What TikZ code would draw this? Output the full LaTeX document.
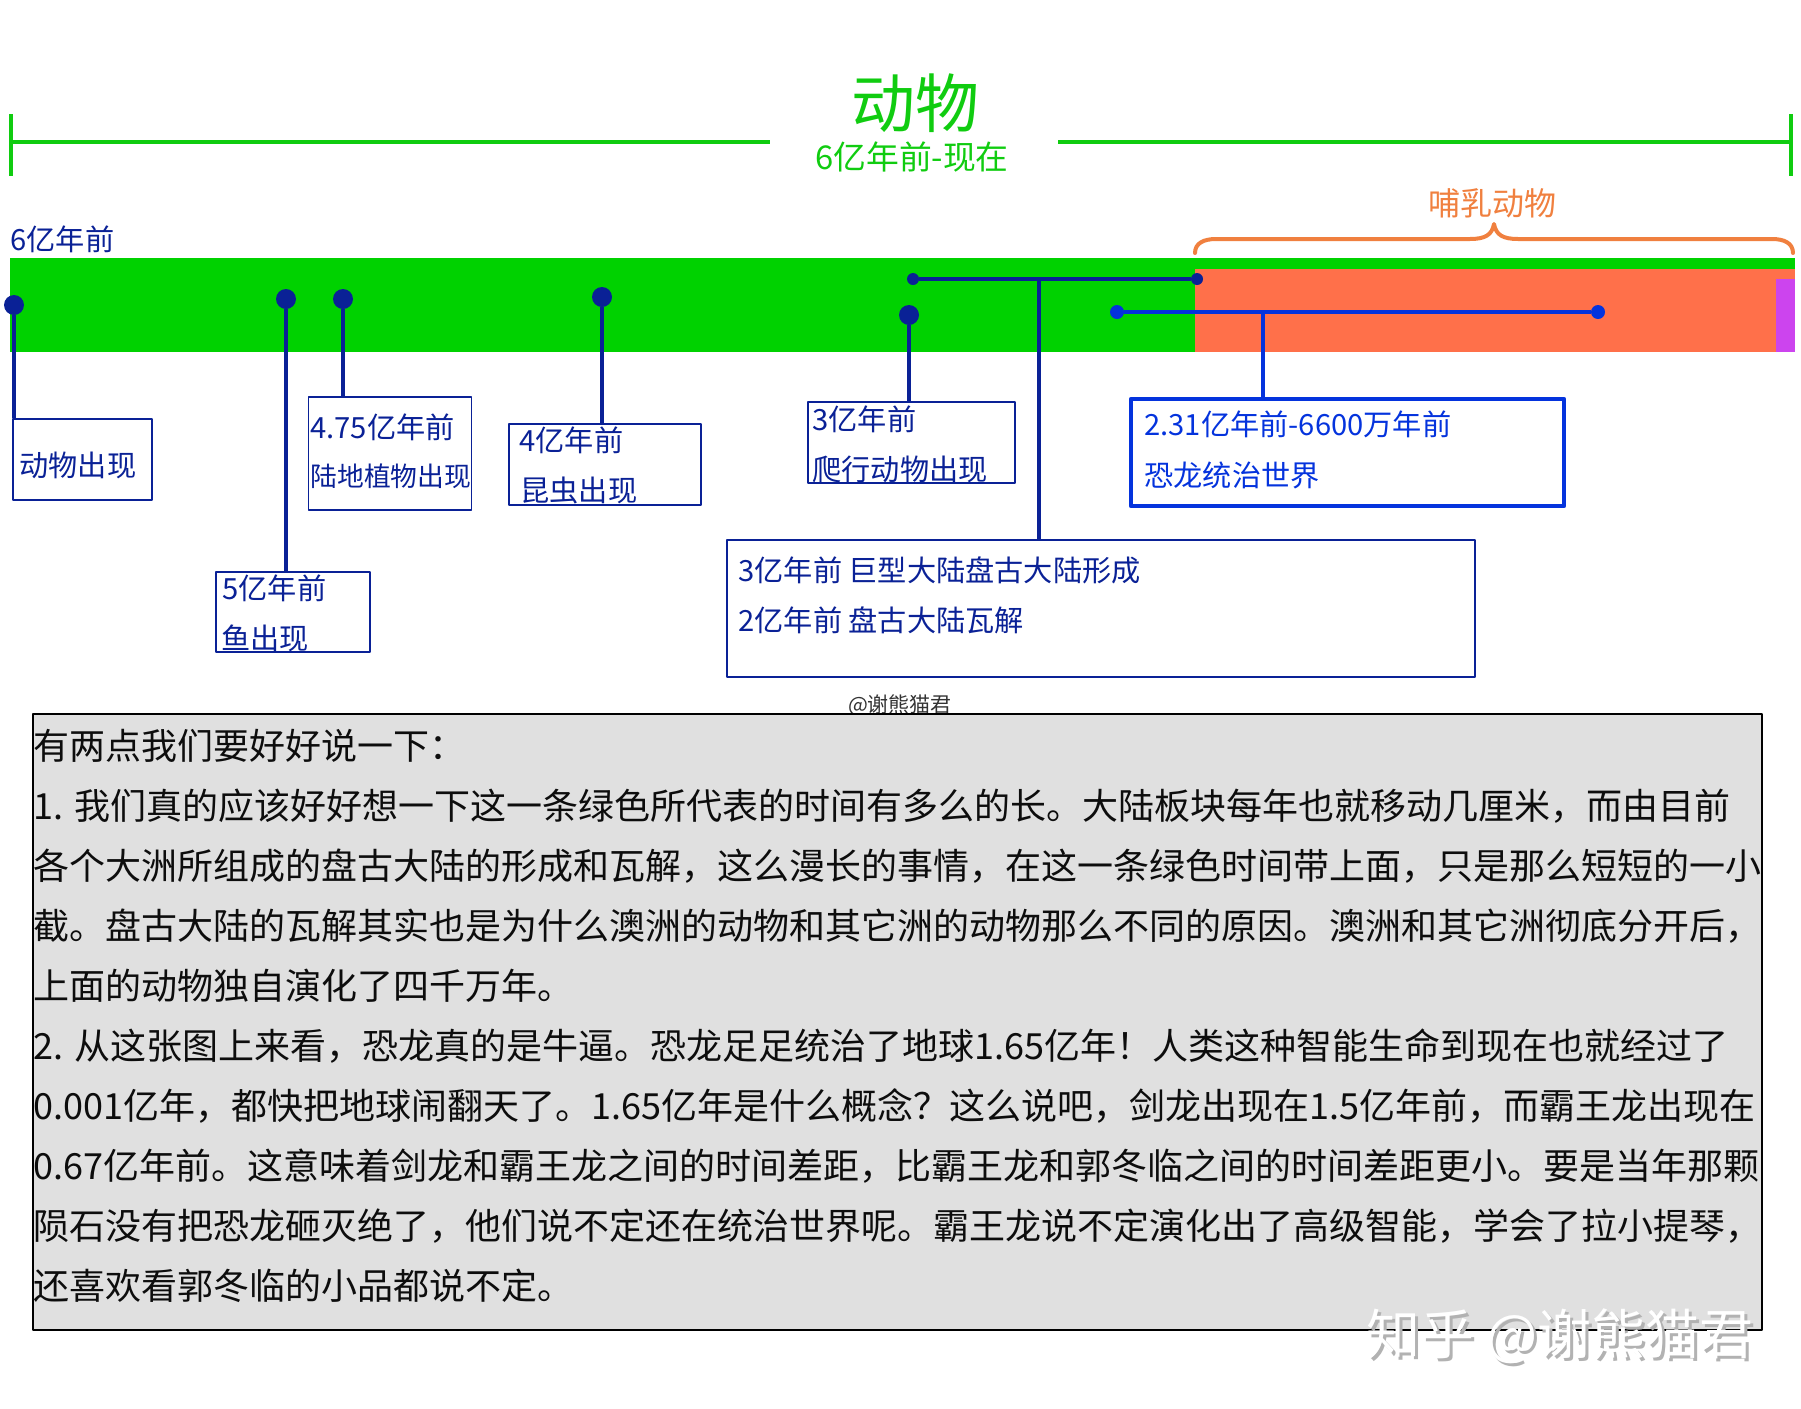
\documentclass[tikz,border=0pt]{standalone}
\usepackage{fontspec}
\setmainfont{Noto Sans CJK SC}
\definecolor{barGreen}{HTML}{00D200}
\definecolor{lineGreen}{HTML}{10CC10}
\definecolor{mamOrange}{HTML}{FF704A}
\definecolor{braceOrange}{HTML}{F0803F}
\definecolor{nowPurple}{HTML}{CC44EE}
\definecolor{navy}{HTML}{0A2196}
\definecolor{dinoBlue}{HTML}{0433DD}
\definecolor{panelGrey}{HTML}{E0E0E0}
\begin{document}
\begin{tikzpicture}[x=.5pt,y=-.5pt,line join=round,
    txt/.style={inner sep=0pt,anchor=west,text=navy,font=\fontsize{14.6}{16}\selectfont},
    infobox/.style={draw=navy,line width=.7pt,inner sep=0pt},
    link/.style={draw=navy,line width=1.7pt},
    dino/.style={draw=dinoBlue,line width=2.4pt},
    spanline/.style={draw=lineGreen,line width=2.4pt},
    bigdot/.style={circle,fill=navy,inner sep=0pt,minimum size=10pt},
    smalldot/.style={circle,fill=navy,inner sep=0pt,minimum size=6pt},
    dinodot/.style={circle,fill=dinoBlue,inner sep=0pt,minimum size=7pt}]
\useasboundingbox (0,0) rectangle (1801,1409);
% top span
\coordinate (spanA) at (11,142);
\coordinate (spanB) at (770,142);
\coordinate (spanC) at (1058,142);
\coordinate (spanD) at (1791,142);
\draw[spanline] (spanA)--(spanB) (spanC)--(spanD);
\draw[spanline] (11,114)--(11,176) (1791,114)--(1791,176);
\node[inner sep=0pt,text=lineGreen,font=\fontsize{32}{34}\selectfont] (title) at (915,103) {动物};
\node[inner sep=0pt,text=lineGreen,font=\fontsize{16.4}{18}\selectfont] (subtitle) at (912,157) {6亿年前-现在};
\node[txt] (start) at (10,239) {6亿年前};
% bar
\fill[barGreen] (10,258) rectangle (1795,352);
\fill[mamOrange] (1195,269) rectangle (1795,352);
\fill[nowPurple] (1776,279) rectangle (1795,352);
\draw[braceOrange,line width=2pt,line cap=round] (1195,253) .. controls (1195,243) and (1204,239) .. (1216,239)
    -- (1470,239) .. controls (1485,239) and (1492,235) .. (1494,224)
    .. controls (1496,235) and (1503,239) .. (1518,239) -- (1772,239)
    .. controls (1784,239) and (1793,243) .. (1793,253);
\node[inner sep=0pt,text=braceOrange,font=\fontsize{16}{18}\selectfont] (mammal) at (1492,203) {哺乳动物};
% boxes
\node[infobox,minimum width=69.5pt,minimum height=40.5pt] (boxanimal) at (82.5,459.5) {};
\node[infobox,minimum width=81.5pt,minimum height=56.5pt] (boxplant) at (390,453.5) {};
\node[infobox,minimum width=96pt,minimum height=40.5pt] (boxinsect) at (605,464.5) {};
\node[infobox,minimum width=77pt,minimum height=40pt] (boxfish) at (293,612) {};
\node[infobox,minimum width=103.5pt,minimum height=40.5pt] (boxreptile) at (911.5,442.5) {};
\node[infobox,minimum width=374pt,minimum height=68.5pt] (boxpangea) at (1101,608.5) {};
\node[draw=dinoBlue,line width=2.4pt,inner sep=0pt,minimum width=216.5pt,minimum height=53.5pt] (boxdino) at (1347.5,452.5) {};
\node[txt] (animaltxt) at (19,465) {动物出现};
\node[txt] (planttxtA) at (310,427) {4.75亿年前};
\node[txt,font=\fontsize{13.4}{16}\selectfont] (planttxtB) at (310,476) {陆地植物出现};
\node[txt] (insecttxtA) at (519,440) {4亿年前};
\node[txt] (insecttxtB) at (520,490) {昆虫出现};
\node[txt] (fishtxtA) at (222,588) {5亿年前};
\node[txt] (fishtxtB) at (221,638) {鱼出现};
\node[txt] (reptiletxtA) at (812,419) {3亿年前};
\node[txt] (reptiletxtB) at (812,469) {爬行动物出现};
\node[txt] (pangeatxtA) at (738,570) {3亿年前 巨型大陆盘古大陆形成};
\node[txt] (pangeatxtB) at (738,620) {2亿年前 盘古大陆瓦解};
\node[txt,text=dinoBlue] (dinotxtA) at (1144,424) {2.31亿年前-6600万年前};
\node[txt,text=dinoBlue] (dinotxtB) at (1144,475) {恐龙统治世界};
% dots
\node[bigdot] (dotanimal) at (14,305) {};
\node[bigdot] (dotfish) at (286,299) {};
\node[bigdot] (dotplant) at (343,299) {};
\node[bigdot] (dotinsect) at (602,297) {};
\node[bigdot] (dotreptile) at (909,315) {};
\node[smalldot] (dotpangeaA) at (913,279) {};
\node[smalldot] (dotpangeaB) at (1197,279) {};
\node[dinodot] (dotdinoA) at (1117,312) {};
\node[dinodot] (dotdinoB) at (1598,312) {};
\coordinate (pangeamid) at (1039,279);
\coordinate (dinomid) at (1263,312);
\draw[link] (dotanimal)--(dotanimal|-boxanimal.north);
\draw[link] (dotfish)--(dotfish|-boxfish.north);
\draw[link] (dotplant)--(dotplant|-boxplant.north);
\draw[link] (dotinsect)--(dotinsect|-boxinsect.north);
\draw[link] (dotreptile)--(dotreptile|-boxreptile.north);
\draw[link] (dotpangeaA)--(dotpangeaB) (pangeamid)--(pangeamid|-boxpangea.north);
\draw[dino] (dotdinoA)--(dotdinoB) (dinomid)--(dinomid|-boxdino.north);
% note
\node[inner sep=0pt,text=black!80,font=\fontsize{10.5}{12}\selectfont] (credit) at (900,705) {@谢熊猫君};
\node[draw=black,fill=panelGrey,line width=.7pt,inner sep=0pt,minimum width=864.5pt,minimum height=308pt] (panel) at (897.5,1022) {};
\node[inner sep=0pt,anchor=north west,align=left,text=black!95,font=\fontsize{18}{30}\selectfont] (notetxt) at (33.5,729) {有两点我们要好好说一下：\\
1. 我们真的应该好好想一下这一条绿色所代表的时间有多么的长。大陆板块每年也就移动几厘米，而由目前\\
各个大洲所组成的盘古大陆的形成和瓦解，这么漫长的事情，在这一条绿色时间带上面，只是那么短短的一小\\
截。盘古大陆的瓦解其实也是为什么澳洲的动物和其它洲的动物那么不同的原因。澳洲和其它洲彻底分开后，\\
上面的动物独自演化了四千万年。\\
2. 从这张图上来看，恐龙真的是牛逼。恐龙足足统治了地球1.65亿年！人类这种智能生命到现在也就经过了\\
0.001亿年，都快把地球闹翻天了。1.65亿年是什么概念？这么说吧，剑龙出现在1.5亿年前，而霸王龙出现在\\
0.67亿年前。这意味着剑龙和霸王龙之间的时间差距，比霸王龙和郭冬临之间的时间差距更小。要是当年那颗\\
陨石没有把恐龙砸灭绝了，他们说不定还在统治世界呢。霸王龙说不定演化出了高级智能，学会了拉小提琴，\\
还喜欢看郭冬临的小品都说不定。};
% watermark
\node[inner sep=0pt,anchor=east,text=black!30,font=\fontsize{27}{30}\selectfont] (markshadow) at (1757,1339) {知乎 @谢熊猫君};
\node[inner sep=0pt,anchor=east,text=white,font=\fontsize{27}{30}\selectfont] (mark) at (1754,1336) {知乎 @谢熊猫君};
\end{tikzpicture}
\end{document}
